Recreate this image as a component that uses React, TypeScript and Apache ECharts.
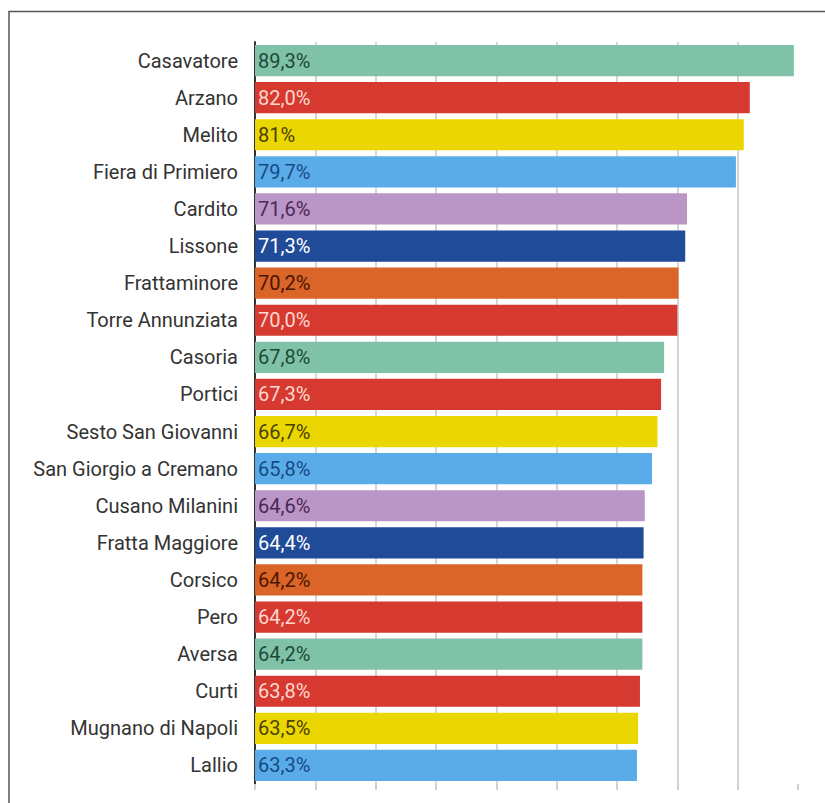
import React, { useEffect, useRef } from "react";
import * as echarts from "echarts";

const categories = [
  "Casavatore", "Arzano", "Melito", "Fiera di Primiero", "Cardito", "Lissone",
  "Frattaminore", "Torre Annunziata", "Casoria", "Portici", "Sesto San Giovanni",
  "San Giorgio a Cremano", "Cusano Milanini", "Fratta Maggiore", "Corsico", "Pero",
  "Aversa", "Curti", "Mugnano di Napoli", "Lallio",
];
const values = [
  89.3, 82.0, 81, 79.7, 71.6, 71.3, 70.2, 70.0, 67.8, 67.3, 66.7, 65.8, 64.6, 64.4,
  64.2, 64.2, 64.2, 63.8, 63.5, 63.3,
];
const valueLabels = [
  "89,3%", "82,0%", "81%", "79,7%", "71,6%", "71,3%", "70,2%", "70,0%", "67,8%",
  "67,3%", "66,7%", "65,8%", "64,6%", "64,4%", "64,2%", "64,2%", "64,2%", "63,8%",
  "63,5%", "63,3%",
];
const palette = ["#80c2a8", "#d5392f", "#ead600", "#5aace8", "#b996c6", "#1f4b98", "#db6428", "#d5392f"];
const labelColors = ["#1d4a38", "#ffd6d0", "#4a4100", "#174a85", "#4a2858", "#ffffff", "#4a1600", "#ffd6d0"];

export default function App() {
  const ref = useRef<HTMLDivElement>(null);
  useEffect(() => {
    if (!ref.current) return;
    const chart = echarts.init(ref.current, null, { renderer: "svg" });
    chart.setOption({
      animation: false,
      graphic: [
        {
          type: "rect",
          shape: { x: 9, y: 11.5, width: 900, height: 900 },
          style: { fill: "none", stroke: "#555", lineWidth: 1.5 },
          z: 0,
        },
      ],
      grid: { left: 255, right: 27, top: 42, bottom: 19, containLabel: false },
      xAxis: {
        type: "value",
        min: 0,
        max: 89.99,
        interval: 10,
        axisLabel: { show: false },
        axisLine: { show: false },
        axisTick: { show: true, length: 6, lineStyle: { color: "#d0d0d0", width: 2 } },
        splitLine: { show: true, showMaxLine: false, lineStyle: { color: "#d6d6d6", width: 2 } },
      },
      yAxis: {
        type: "category",
        inverse: true,
        data: categories,
        axisLine: { show: true, lineStyle: { color: "#333", width: 2 } },
        axisTick: { show: false },
        axisLabel: {
          margin: 17,
          fontFamily: "Roboto",
          fontSize: 20,
          color: "#333",
        },
      },
      series: [
        {
          type: "bar",
          barCategoryGap: "16%",
          data: values.map((v, i) => ({
            value: v,
            itemStyle: { color: palette[i % palette.length] },
            label: {
              show: true,
              position: "insideLeft",
              distance: 3,
              formatter: valueLabels[i],
              color: labelColors[i % labelColors.length],
              fontFamily: "Roboto",
              fontSize: 20,
            },
          })),
        },
      ],
    });
    return () => chart.dispose();
  }, []);
  return (
    <div
      ref={ref}
      style={{ position: "absolute", left: 0, top: 0, width: 825, height: 803, background: "#fff" }}
    />
  );
}
